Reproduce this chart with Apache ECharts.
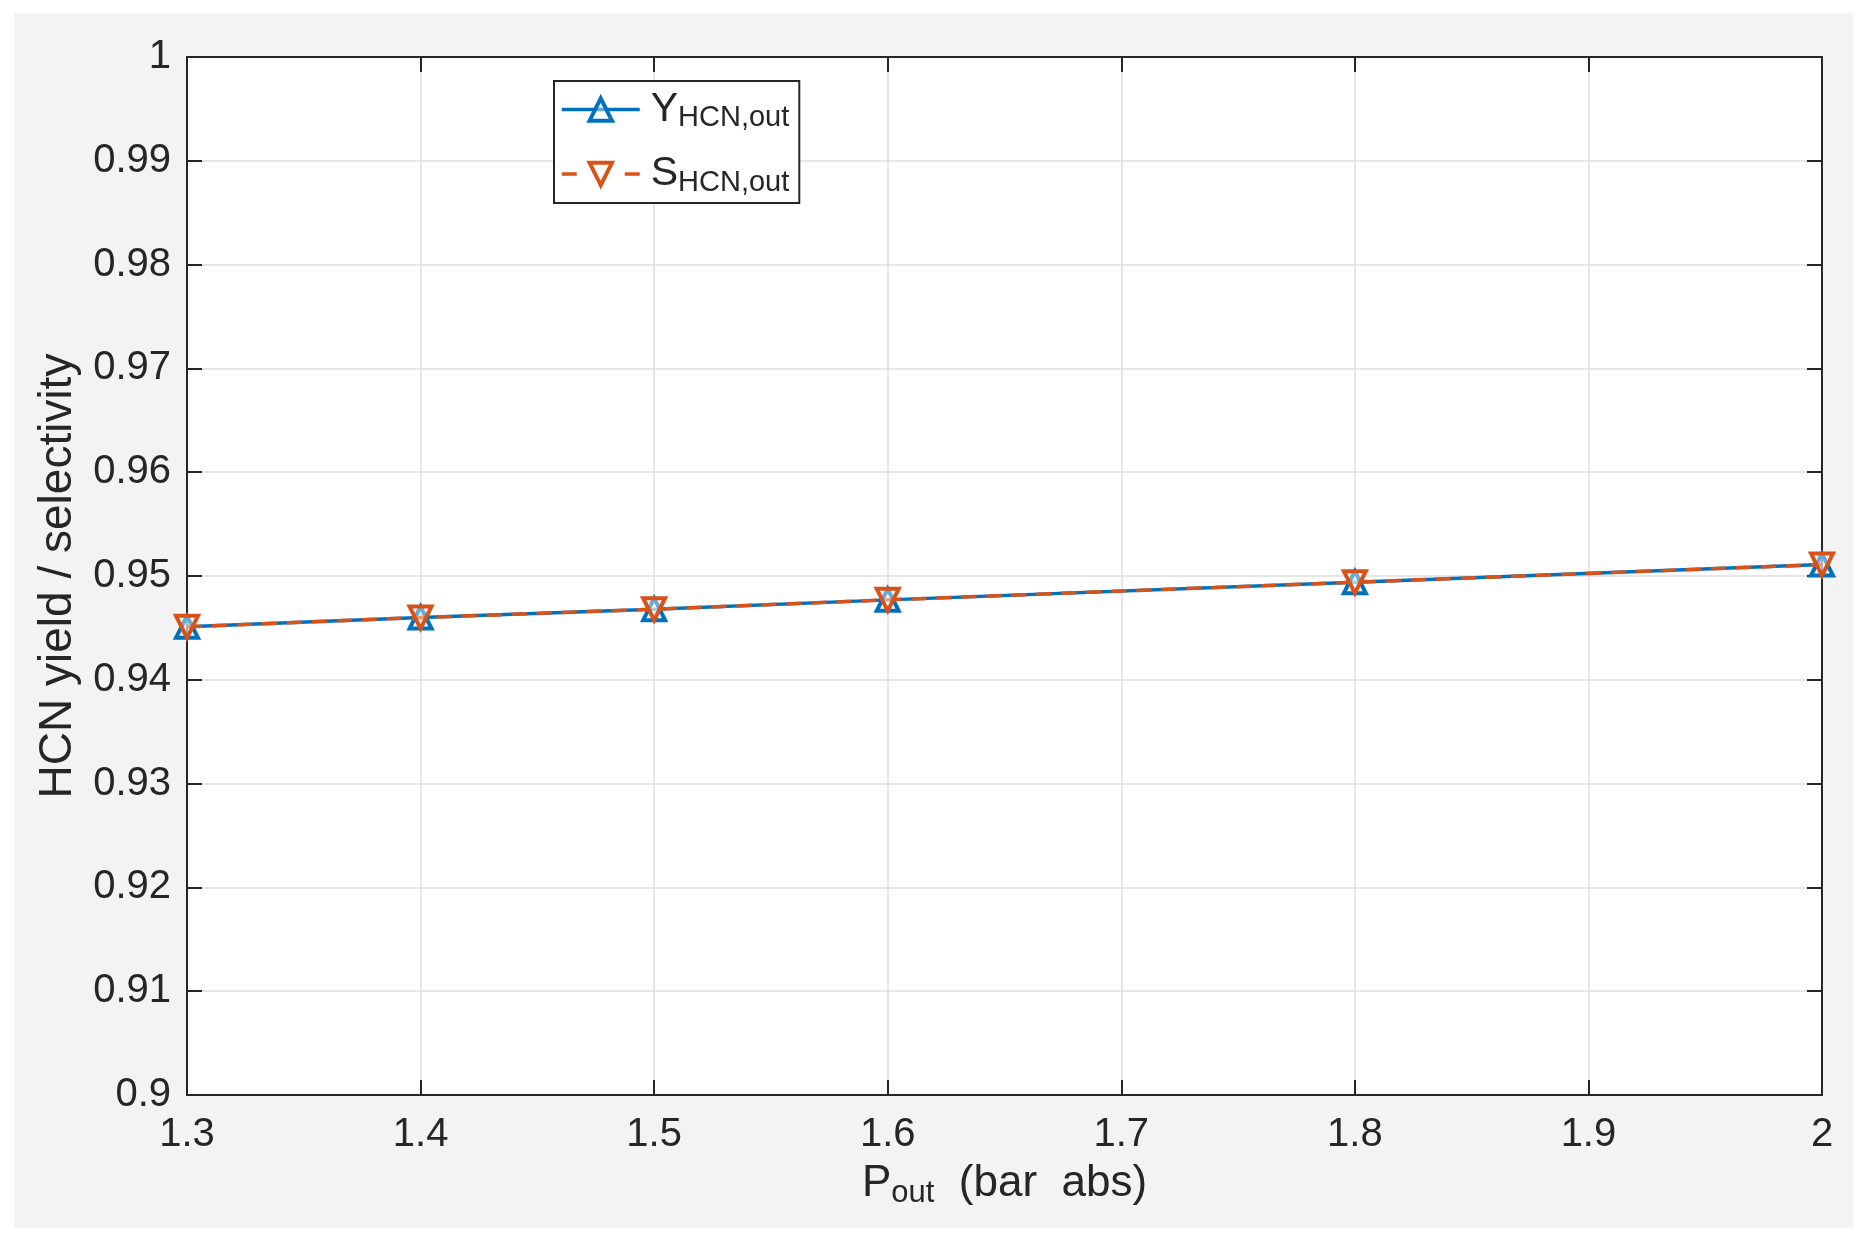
<!DOCTYPE html>
<html>
<head>
<meta charset="utf-8">
<script src="https://cdn.jsdelivr.net/npm/echarts@6/dist/echarts.min.js"></script>
<style>
html, body { margin: 0; padding: 0; background: #ffffff; }
#chart { position: absolute; left: 14px; top: 13px; width: 1839px; height: 1215px; background: #f3f3f3; }
</style>
</head>
<body>
<div id="chart"></div>
<script>
// data
var pressures = [1.3, 1.4, 1.5, 1.6, 1.8, 2.0];
var yieldHCN = [0.9451, 0.9460, 0.9468, 0.9477, 0.9494, 0.9511];
var selHCN = [0.9451, 0.9460, 0.9468, 0.9477, 0.9494, 0.9511];
var seriesNames = ['Y', 'S'];

var axisColor = '#262626';
var blue = '#0072BD';
var orange = '#D95319';

function pairs(xs, ys) {
    var out = [];
    for (var i = 0; i < xs.length; i++) out.push([xs[i], ys[i]]);
    return out;
}

var chart = echarts.init(document.getElementById('chart'));

var font = 'Liberation Sans, Arial, sans-serif';
var subRich = {
    m: { fontSize: 41, lineHeight: 46, color: '#262626', fontFamily: font, padding: [0, 0, 0, 6] },
    s: { fontSize: 29, lineHeight: 16, verticalAlign: 'bottom', color: '#262626', fontFamily: font }
};
var titleRich = {
    m: { fontSize: 44, lineHeight: 50, color: '#262626', fontFamily: font },
    s: { fontSize: 31, lineHeight: 16, verticalAlign: 'bottom', color: '#262626', fontFamily: font }
};

function xAxisCfg(pos, showLabel) {
    return {
        type: 'value', position: pos, min: 1.3, max: 2, interval: 0.1,
        axisLine: { show: true, onZero: false, lineStyle: { color: axisColor, width: 2 } },
        axisTick: { show: true, inside: true, length: 15, lineStyle: { color: axisColor, width: 2 } },
        axisLabel: {
            show: showLabel, margin: 20, fontSize: 40, color: '#262626', fontFamily: font,
            formatter: function (v) { return String(+v.toFixed(1)); }
        },
        splitLine: { show: showLabel, lineStyle: { color: '#dedede', width: 1.5 } }
    };
}
function yAxisCfg(pos, showLabel) {
    return {
        type: 'value', position: pos, min: 0.9, max: 1, interval: 0.01,
        axisLine: { show: true, onZero: false, lineStyle: { color: axisColor, width: 2 } },
        axisTick: { show: true, inside: true, length: 15, lineStyle: { color: axisColor, width: 2 } },
        axisLabel: {
            show: showLabel, margin: 16, fontSize: 40, color: '#262626', fontFamily: font,
            formatter: function (v) { return String(+v.toFixed(2)); }
        },
        splitLine: { show: showLabel, lineStyle: { color: '#dedede', width: 1.5 } }
    };
}

var xMain = xAxisCfg('bottom', true);
xMain.name = '{m|P}{s|out}{m|  (bar  abs)}';
xMain.nameLocation = 'middle';
xMain.nameGap = 64;
xMain.nameTextStyle = { rich: titleRich };

var yMain = yAxisCfg('left', true);
yMain.name = 'HCN yield / selectivity';
yMain.nameLocation = 'middle';
yMain.nameGap = 106;
yMain.nameTextStyle = { fontSize: 46, color: '#262626', fontFamily: font };

var option = {
    animation: false,
    backgroundColor: '#f3f3f3',
    grid: { left: 173, top: 44, right: 31, bottom: 133, show: true, backgroundColor: '#ffffff', borderWidth: 0 },
    legend: {
        left: 540, top: 68, orient: 'vertical',
        backgroundColor: '#ffffff', borderColor: '#262626', borderWidth: 2,
        padding: [8, 10, 6, 6], itemGap: 21,
        itemWidth: 78, itemHeight: 28,
        lineStyle: { width: 3.5 },
        itemStyle: { borderWidth: 4 },
        data: [
            { name: seriesNames[0] },
            { name: seriesNames[1], lineStyle: { type: [15, 48], width: 3.5 } }
        ],
        formatter: function (name) { return '{m|' + name + '}{s|HCN,out}'; },
        textStyle: { rich: subRich }
    },
    xAxis: [xMain, xAxisCfg('top', false)],
    yAxis: [yMain, yAxisCfg('right', false)],
    series: [
        {
            name: seriesNames[0], type: 'line', data: pairs(pressures, yieldHCN),
            symbol: 'triangle', symbolSize: 22,
            lineStyle: { color: blue, width: 3.5 },
            itemStyle: { color: 'rgba(255,255,255,0.4)', borderColor: blue, borderWidth: 4 },
            z: 2
        },
        {
            name: seriesNames[1], type: 'line', data: pairs(pressures, selHCN),
            symbol: 'triangle', symbolRotate: 180, symbolSize: 22,
            lineStyle: { color: orange, width: 3.5, type: [15, 10] },
            itemStyle: { color: 'rgba(255,255,255,0.4)', borderColor: orange, borderWidth: 4 },
            z: 3
        }
    ]
};

chart.setOption(option);
</script>
</body>
</html>
